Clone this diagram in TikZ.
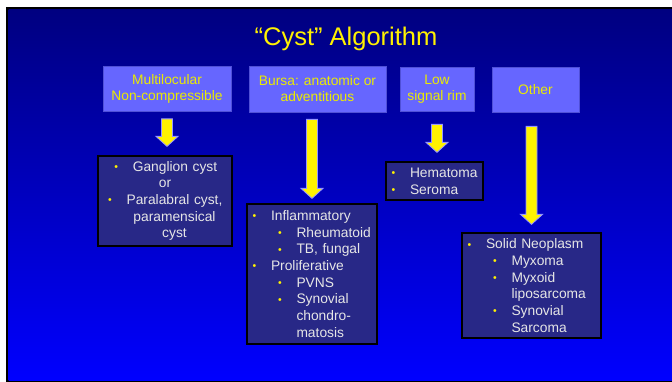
\documentclass[tikz,border=0pt]{standalone}
\usepackage{fontspec}
\setmainfont{Liberation Sans}
\usetikzlibrary{positioning,calc}

\definecolor{slidetop}{RGB}{0,0,128}
\definecolor{slidebottom}{RGB}{0,0,255}
\definecolor{headfill}{RGB}{102,102,255}
\definecolor{headline}{RGB}{80,80,215}
\definecolor{headyellow}{RGB}{235,235,0}
\definecolor{boxfill}{RGB}{40,40,135}
\definecolor{textgrey}{RGB}{230,230,230}
\definecolor{arrowedge}{RGB}{150,150,255}

% bullets and indented lines
\newcommand{\bul}{\makebox[18.5pt][l]{\raisebox{0.6pt}{\fontsize{10.5}{10.5}\selectfont\textcolor{yellow}{\textbullet}}}}
\newcommand{\lone}[1]{\bul#1}
\newcommand{\ltwo}[1]{\hspace*{25.5pt}\bul#1}
\newcommand{\lcont}[1]{\hspace*{44pt}#1}

% yellow block arrow from #1 down to #2
\newcommand{\blockarrow}[2]{%
  \filldraw[arrowbody] let \p1=(#1), \p2=(#2) in
    (\x1-5.5pt,\y1) -- (\x1+5.5pt,\y1) -- (\x1+5.5pt,\y2+10pt) -- (\x1+11pt,\y2+10pt)
    -- (\x1,\y2) -- (\x1-11pt,\y2+10pt) -- (\x1-5.5pt,\y2+10pt) -- cycle;}

\begin{document}
\begin{tikzpicture}[x=1pt,y=-1pt,
    titletext/.style={text=yellow,font=\fontsize{25.5}{30}\selectfont},
    headbox/.style={draw=headline,fill=headfill,text=headyellow,line width=0.8pt,
      align=center,inner sep=0pt,font=\fontsize{13.8}{16}\selectfont},
    infobox/.style={draw=black,fill=boxfill,text=textgrey,line width=1.2pt,
      inner xsep=5.5pt,inner ysep=0pt,font=\fontsize{13.8}{16.7}\selectfont},
    arrowbody/.style={fill=yellow,draw=arrowedge,line width=0.8pt}]
  \useasboundingbox (0,0) rectangle (672,382);
  \fill[white] (0,0) rectangle (672,382);

  % Slide background
  \fill[black] (6,7) rectangle (672,382);
  \shade[top color=slidetop,bottom color=slidebottom] (8.5,9.5) rectangle (672,380.5);

  % Title
  \node[titletext,anchor=base] (title) at (346,46) {“Cyst” Algorithm};

  % Header boxes
  \node[headbox,minimum width=128pt,minimum height=45pt] (h1) at (167,88.5) {Multilocular\\Non-compressible};
  \node[headbox,minimum width=137pt,minimum height=46pt] (h2) at (317.5,89) {Bursa: anatomic or\\adventitious};
  \node[headbox,minimum width=74pt,minimum height=44pt] (h3) at (437,89) {Low\\signal rim};
  \node[headbox,minimum width=87pt,minimum height=45pt] (h4) at (535.5,89.5) {Other};

  % Result boxes
  \node[infobox,align=center,text width=123pt,minimum height=90pt] (cA) at (165,201)
    {\hspace*{20pt}\llap{\bul}Ganglion cyst\\ or\\
     \hspace*{19pt}\llap{\bul}Paralabral cyst,\\ \hspace*{19pt}paramensical\\ \hspace*{19pt}cyst};
  \node[infobox,align=left,text width=119pt,minimum height=140pt] (cB) at (312,274)
    {\lone{Inflammatory}\\ \ltwo{Rheumatoid}\\ \ltwo{TB, fungal}\\ \lone{Proliferative}\\
     \ltwo{PVNS}\\ \ltwo{Synovial}\\ \lcont{chondro-}\\ \lcont{matosis}};
  \node[infobox,align=left,text width=86pt,minimum height=38pt] (cC) at (434.5,181)
    {\lone{Hematoma}\\ \lone{Seroma}};
  \node[infobox,align=left,text width=128pt,minimum height=105pt] (cD) at (531.5,285.5)
    {\lone{Solid Neoplasm}\\ \ltwo{Myxoma}\\ \ltwo{Myxoid}\\ \lcont{liposarcoma}\\
     \ltwo{Synovial}\\ \lcont{Sarcoma}};

  % Arrows
  \blockarrow{$(h1.south)+(0,7.5)$}{$(h1.south |- cA.north)+(0,-9)$}
  \blockarrow{$(cB.north |- h2.south)+(0,7)$}{$(cB.north)+(0,-5)$}
  \blockarrow{$(h3.south)+(0,13)$}{$(h3.south |- cC.north)+(0,-9)$}
  \blockarrow{$(cD.north |- h4.south)+(0,14)$}{$(cD.north)+(0,-8)$}
\end{tikzpicture}
\end{document}
